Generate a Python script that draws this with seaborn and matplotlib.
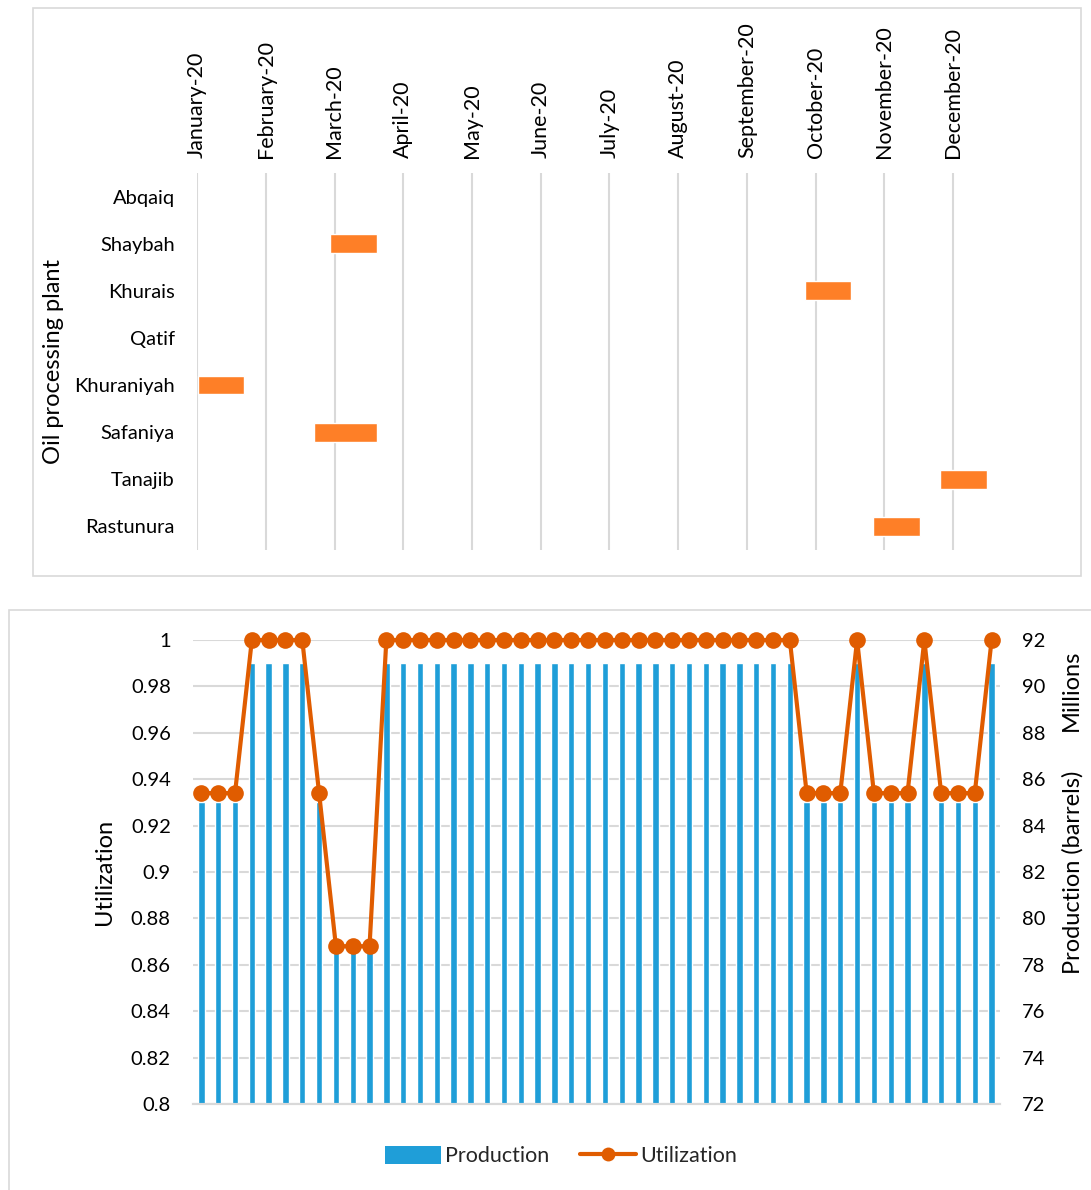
import numpy as np
import matplotlib
matplotlib.use("Agg")
import matplotlib.pyplot as plt
from matplotlib.patches import Rectangle, Patch
from matplotlib.lines import Line2D
import seaborn as sns

# ---- data -------------------------------------------------------------
months = ["January-20", "February-20", "March-20", "April-20", "May-20", "June-20",
          "July-20", "August-20", "September-20", "October-20", "November-20",
          "December-20"]
plants = ["Abqaiq", "Shaybah", "Khurais", "Qatif", "Khuraniyah", "Safaniya",
          "Tanajib", "Rastunura"]

# maintenance outages (start / end in months from 1 Jan 2020)
outage_plants = ["Shaybah", "Khurais", "Khuraniyah", "Safaniya", "Tanajib", "Rastunura"]
outage_start = [1.936, 8.84, 0.01, 1.705, 10.805, 9.84]
outage_end = [2.615, 9.52, 0.685, 2.615, 11.485, 10.52]

weeks = list(range(1, 49))
production = [85, 85, 85, 91, 91, 91, 91, 85, 79, 79, 79, 91,
              91, 91, 91, 91, 91, 91, 91, 91, 91, 91, 91, 91,
              91, 91, 91, 91, 91, 91, 91, 91, 91, 91, 91, 91,
              85, 85, 85, 91, 85, 85, 85, 91, 85, 85, 85, 91]
utilization = [0.934, 0.934, 0.934, 1.0, 1.0, 1.0, 1.0, 0.934, 0.868, 0.868, 0.868, 1.0,
               1.0, 1.0, 1.0, 1.0, 1.0, 1.0, 1.0, 1.0, 1.0, 1.0, 1.0, 1.0,
               1.0, 1.0, 1.0, 1.0, 1.0, 1.0, 1.0, 1.0, 1.0, 1.0, 1.0, 1.0,
               0.934, 0.934, 0.934, 1.0, 0.934, 0.934, 0.934, 1.0, 0.934, 0.934, 0.934, 1.0]

util_ticks = [0.8, 0.82, 0.84, 0.86, 0.88, 0.9, 0.92, 0.94, 0.96, 0.98, 1.0]
prod_ticks = [72, 74, 76, 78, 80, 82, 84, 86, 88, 90, 92]

# ---- style ------------------------------------------------------------
sns.set_theme(style="white")
plt.rcParams["font.family"] = ["Lato", "DejaVu Sans"]
GRID = "#d9d9d9"
BAR_BLUE = "#1f9ed8"
LINE_ORANGE = "#e05c00"
GANTT_ORANGE = "#fe7f27"
TXT = "#000000"

W, H = 1091, 1190
fig = plt.figure(figsize=(W / 100, H / 100), dpi=100)


def ax_rect(x0, y0, x1, y1):
    return [x0 / W, 1 - y1 / H, (x1 - x0) / W, (y1 - y0) / H]


# chart frames
fig.add_artist(Rectangle((33 / W, 1 - 576 / H), (1081 - 33) / W, (576 - 8) / H,
                         transform=fig.transFigure, fill=False, ec=GRID, lw=1.2))
fig.add_artist(Rectangle((9 / W, -0.01), 1.02, 1.01 - 610 / H,
                         transform=fig.transFigure, fill=False, ec=GRID, lw=1.2))

# ---- Gantt of plant outages ------------------------------------------
ax_t = fig.add_axes(ax_rect(197, 173, 1022, 550))
rows = [plants.index(p) for p in outage_plants]
widths = [e - s for s, e in zip(outage_start, outage_end)]
ax_t.barh(rows, widths, left=outage_start, height=0.4, color=GANTT_ORANGE, zorder=3)
ax_t.set_xlim(0, 12)
ax_t.set_ylim(len(plants) - 0.5, -0.5)
ax_t.set_xticks(range(len(months)))
ax_t.set_xticklabels(months, rotation=90, fontsize=15.5, color=TXT)
ax_t.xaxis.tick_top()
ax_t.set_yticks(range(len(plants)))
ax_t.set_yticklabels(plants, fontsize=14.5, color=TXT)
ax_t.tick_params(axis="x", length=0, pad=11)
ax_t.tick_params(axis="y", length=0, pad=16)
ax_t.grid(axis="x", color=GRID, lw=1.5)
ax_t.grid(axis="y", visible=False)
ax_t.set_axisbelow(True)
for s in ax_t.spines.values():
    s.set_visible(False)
ax_t.set_ylabel("Oil processing plant", fontsize=17, color=TXT)
ax_t.yaxis.set_label_coords((64 - 197) / (1022 - 197), 0.5)

# ---- weekly production and utilization -------------------------------
ax_u = fig.add_axes(ax_rect(193, 640, 1000, 1104))
ax_p = ax_u.twinx()

sns.barplot(x=weeks, y=production, ax=ax_p, color=BAR_BLUE, saturation=1,
            width=0.38, zorder=2)
ax_p.set_ylim(72, 92)
ax_p.set_yticks(prod_ticks)
ax_p.set_yticklabels([str(v) for v in prod_ticks], fontsize=14.5, color=TXT)
ax_p.grid(axis="y", color=GRID, lw=1.5)
ax_p.grid(axis="x", visible=False)
ax_p.set_axisbelow(True)
ax_p.tick_params(axis="y", length=0, pad=16)
ax_p.set_xticks([])
ax_p.set_xlabel("")
ax_p.set_ylabel("Production (barrels)", fontsize=17, color=TXT)
ax_p.yaxis.set_label_coords((1062 - 193) / (1000 - 193), 0.5)
ax_p.text((1071 - 193) / (1000 - 193), (1104 - 690) / (1104 - 640), "Millions",
          transform=ax_p.transAxes, rotation=90, ha="center", va="center",
          fontsize=17, color=TXT)

positions = np.arange(len(weeks))
sns.lineplot(x=positions, y=utilization, ax=ax_u, color=LINE_ORANGE, lw=3,
             marker="o", markersize=12, markeredgewidth=0, clip_on=False,
             legend=False)
ax_u.set_ylim(0.8, 1.0)
ax_u.set_xlim(-0.5, len(weeks) - 0.5)
ax_p.set_xlim(-0.5, len(weeks) - 0.5)
ax_u.set_yticks(util_ticks)
ax_u.set_yticklabels([f"{v:g}" for v in util_ticks], fontsize=14.5, color=TXT)
ax_u.tick_params(axis="y", length=0, pad=16)
ax_u.set_xticks([])
ax_u.set_ylabel("Utilization", fontsize=17, color=TXT)
ax_u.yaxis.set_label_coords((115 - 193) / (1000 - 193), 0.5)
ax_u.set_zorder(ax_p.get_zorder() + 1)
ax_u.patch.set_visible(False)

for a in (ax_u, ax_p):
    for name, s in a.spines.items():
        s.set_visible(name == "bottom")
        s.set_color(GRID)
        s.set_linewidth(1.5)

handles = [Patch(facecolor=BAR_BLUE, edgecolor="none"),
           Line2D([0], [0], color=LINE_ORANGE, lw=3, marker="o", markersize=10,
                  markeredgewidth=0)]
fig.legend(handles, ["Production", "Utilization"], loc="center",
           bbox_to_anchor=(561 / W, 1 - 1156 / H), ncol=2, frameon=False,
           fontsize=15.5, handlelength=2.6, handleheight=0.9, handletextpad=0.2,
           columnspacing=1.4)

fig.savefig("out.png", dpi=100)
